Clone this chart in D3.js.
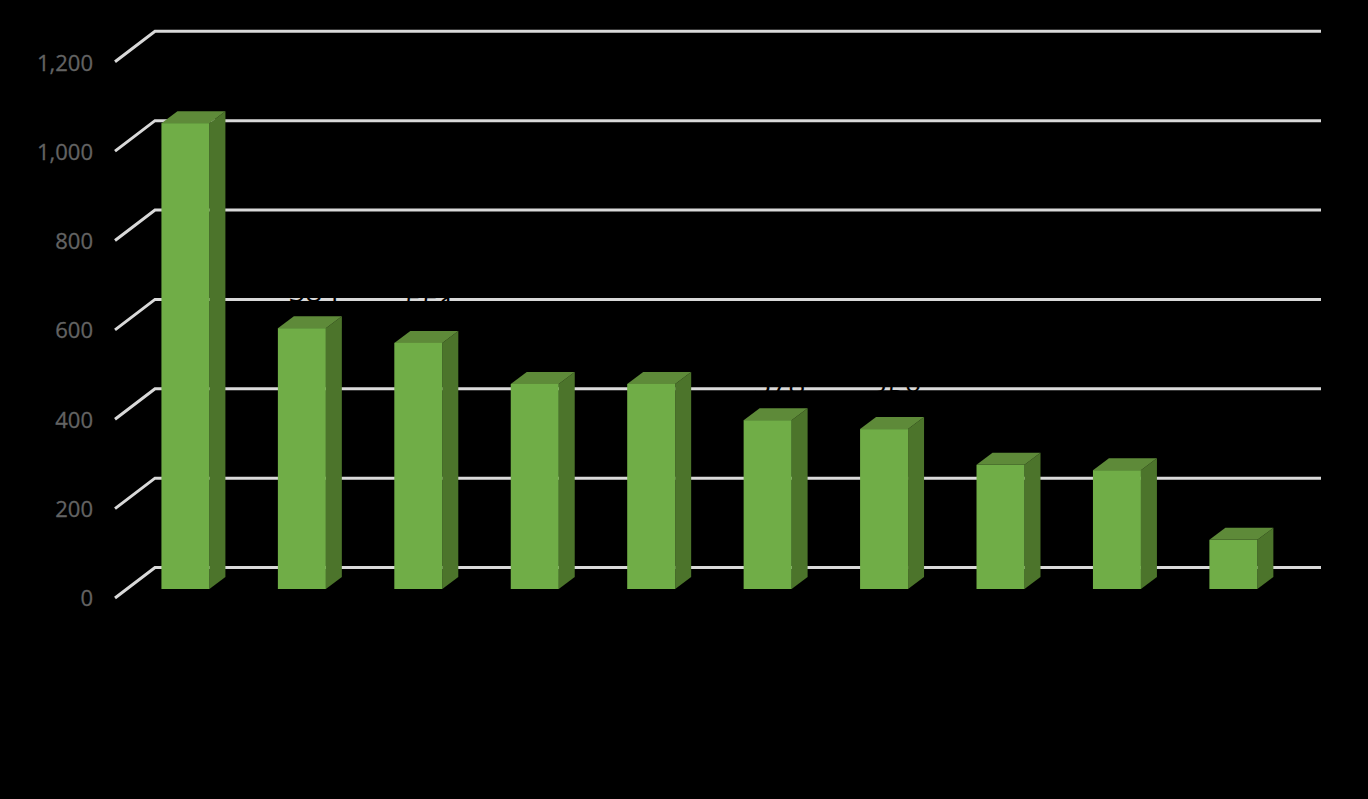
<!DOCTYPE html>
<html>
<head>
<meta charset="utf-8">
<script src="https://cdn.jsdelivr.net/npm/d3@7"></script>
<style>
html,body{margin:0;padding:0;background:#000;overflow:hidden}
svg{display:block}
</style>
</head>
<body>
<svg id="chart" width="1368" height="799"></svg>
<script>
const ranks = ["1","2","3","4","5","6","7","8","9","10"];
const values = [1043, 584, 551, 459, 459, 378, 358, 278, 266, 110];
const yTicks = [0, 200, 400, 600, 800, 1000, 1200];
const tickFormat = d3.format(",");

const W = 1368, H = 799;
const depthX = 16, depthY = 12;
const svg = d3.select("#chart").attr("viewBox", `0 0 ${W} ${H}`);
svg.append("rect").attr("width", W).attr("height", H).attr("fill", "#000");

const x = d3.scaleBand().domain(ranks).range([127.2, 1291.6]).paddingInner(0.588).paddingOuter(0.294);
const yFront = d3.scaleLinear().domain([0, 1200]).range([589, 53]);
const yBack = d3.scaleLinear().domain([0, 1200]).range([567.5, 31.3]);
const yLabel = d3.scaleLinear().domain([0, 1200]).range([598.5, 63]);

const gridPath = d => {
  const yb = yBack(d);
  return d3.line()([[115, yb + 30.5], [155, yb], [1321, yb]]);
};
svg.append("g").selectAll("path").data(yTicks).join("path")
  .attr("d", gridPath)
  .attr("fill", "none")
  .attr("stroke", "#d9d9d9")
  .attr("stroke-width", 3);

const axis = d3.axisLeft(yLabel).tickValues(yTicks).tickFormat(tickFormat).tickSize(0).tickPadding(0);
const axisG = svg.append("g").attr("transform", "translate(93,0)").call(axis);
axisG.select(".domain").remove();
axisG.selectAll("text")
  .attr("font-family", "'Open Sans', sans-serif")
  .attr("font-size", 22)
  .attr("fill", "#636363")
  .attr("stroke", "#636363")
  .attr("stroke-width", 0.3);

const bars = svg.append("g").selectAll("g").data(values).join("g");
const bw = x.bandwidth();
const left = (d, i) => x(ranks[i]);
const poly = pts => d3.line()(pts) + "Z";

bars.append("path")
  .attr("fill", "#4c742b")
  .attr("d", (d, i) => {
    const r = left(d, i) + bw, t = yFront(d), b = yFront(0);
    return poly([[r, t], [r + depthX, t - depthY], [r + depthX, b - depthY], [r, b]]);
  });
bars.append("path")
  .attr("fill", "#5e8a39")
  .attr("d", (d, i) => {
    const l = left(d, i), t = yFront(d);
    return poly([[l, t], [l + depthX, t - depthY], [l + bw + depthX, t - depthY], [l + bw, t]]);
  });
bars.append("rect")
  .attr("fill", "#70ad47")
  .attr("x", (d, i) => left(d, i))
  .attr("y", d => yFront(d))
  .attr("width", bw)
  .attr("height", d => yFront(0) - yFront(d));

svg.append("g").selectAll("text").data(values).join("text")
  .attr("x", (d, i) => left(d, i) + bw / 2 + 12)
  .attr("y", d => yFront(d) - depthY - 14)
  .attr("text-anchor", "middle")
  .attr("font-family", "'Open Sans', sans-serif")
  .attr("font-size", 30)
  .attr("fill", "#000")
  .text(d => tickFormat(d));
</script>
</body>
</html>
